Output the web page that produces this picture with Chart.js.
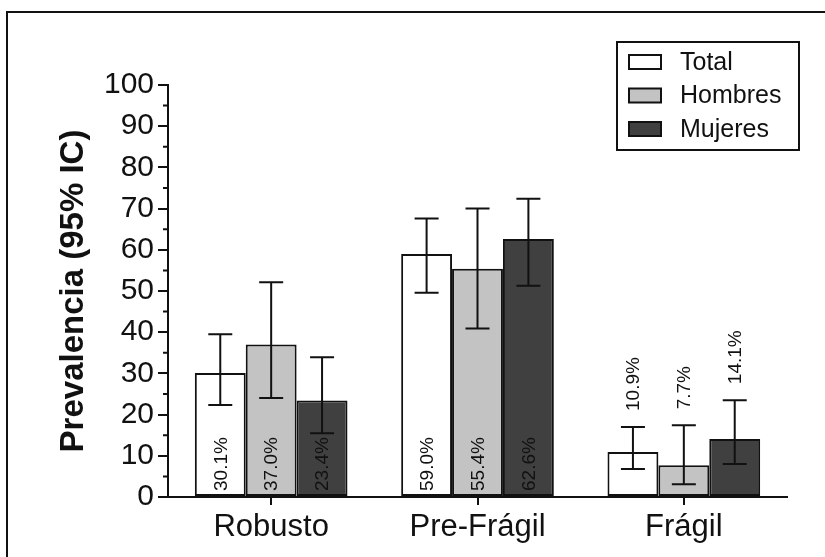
<!DOCTYPE html>
<html>
<head>
<meta charset="utf-8">
<script src="https://cdn.jsdelivr.net/npm/chart.js@4.4.1/dist/chart.umd.min.js"></script>
<style>
	html, body { margin: 0; padding: 0; background: #fff; }
	#wrap { width: 825px; height: 557px; }
</style>
</head>
<body>
<div id="wrap"><canvas id="statChart" width="825" height="557"></canvas></div>
<script>
var categories = ['Robusto', 'Pre-Frágil', 'Frágil']
var seriesNames = ['Total', 'Hombres', 'Mujeres']

var total = [30.1, 59.0, 10.9]
var hombres = [37.0, 55.4, 7.7]
var mujeres = [23.4, 62.6, 14.1]

// 95% IC, lower / upper limits
var totalLow = [22.3, 49.6, 6.8]
var totalHigh = [39.5, 67.6, 17.0]
var hombresLow = [24.0, 40.9, 3.1]
var hombresHigh = [52.1, 70.0, 17.4]
var mujeresLow = [15.5, 51.3, 8.0]
var mujeresHigh = [33.9, 72.4, 23.5]

var yTicks = [0, 10, 20, 30, 40, 50, 60, 70, 80, 90, 100]

var fills = ['#ffffff', '#c3c3c3', '#404040']
var ink = '#111111'

Chart.defaults.font.family = "'Liberation Sans', Arial, sans-serif"
Chart.defaults.color = ink

function makeSet(i, values, low, high) {
	return {
		label: seriesNames[i],
		data: values,
		low: low,
		high: high,
		backgroundColor: fills[i],
		borderColor: ink,
		borderWidth: 2,
		borderSkipped: false,
		categoryPercentage: 0.74,
		barPercentage: 1.0
	}
}

// error bars, value labels, minor ticks, legend box and the outer frame
var extras = {
	id: 'extras',
	afterDatasetsDraw(chart) {
		var ctx = chart.ctx
		var y = chart.scales.y
		ctx.save()
		ctx.strokeStyle = ink
		ctx.lineWidth = 2
		chart.data.datasets.forEach((ds, d) => {
			chart.getDatasetMeta(d).data.forEach((bar, i) => {
				var top = y.getPixelForValue(ds.high[i])
				var bot = y.getPixelForValue(ds.low[i])
				ctx.beginPath()
				ctx.moveTo(bar.x, top); ctx.lineTo(bar.x, bot)
				ctx.moveTo(bar.x - 12, top); ctx.lineTo(bar.x + 12, top)
				ctx.moveTo(bar.x - 12, bot); ctx.lineTo(bar.x + 12, bot)
				ctx.stroke()

				var txt = ds.data[i].toFixed(1) + '%'
				ctx.font = "19px 'Liberation Sans', Arial, sans-serif"
				var len = ctx.measureText(txt).width
				var barH = y.getPixelForValue(0) - bar.y
				var startY = barH > len + 14 ? y.getPixelForValue(0) - 6 : top - 16
				ctx.save()
				ctx.translate(bar.x, startY)
				ctx.rotate(-Math.PI / 2)
				ctx.fillStyle = ink
				ctx.textAlign = 'left'
				ctx.textBaseline = 'middle'
				ctx.fillText(txt, 0, 1)
				ctx.restore()
			})
		})
		ctx.restore()
	},
	afterDraw(chart) {
		var ctx = chart.ctx
		var y = chart.scales.y
		ctx.save()
		ctx.strokeStyle = ink
		ctx.lineWidth = 2
		// minor ticks
		ctx.beginPath()
		for (var k = 0; k < yTicks.length - 1; k++) {
			var py = y.getPixelForValue((yTicks[k] + yTicks[k + 1]) / 2)
			ctx.moveTo(y.right - 5, py); ctx.lineTo(y.right, py)
		}
		ctx.stroke()

		// frame
		ctx.beginPath()
		ctx.moveTo(7, 557); ctx.lineTo(7, 12); ctx.lineTo(825, 12)
		ctx.stroke()

		// legend
		ctx.strokeRect(617, 42, 182, 108)
		ctx.font = "25px 'Liberation Sans', Arial, sans-serif"
		ctx.textBaseline = 'middle'
		chart.data.datasets.forEach((ds, d) => {
			var cy = 62 + d * 33.5
			ctx.fillStyle = ds.backgroundColor
			ctx.fillRect(629, cy - 7, 32, 14)
			ctx.strokeRect(629, cy - 7, 32, 14)
			ctx.fillStyle = ink
			ctx.fillText(ds.label, 680, cy + 1)
		})
		ctx.restore()
	}
}

var chart = new Chart(document.getElementById('statChart').getContext('2d'), {
	type: 'bar',
	data: {
		labels: categories,
		datasets: [
			makeSet(0, total, totalLow, totalHigh),
			makeSet(1, hombres, hombresLow, hombresHigh),
			makeSet(2, mujeres, mujeresLow, mujeresHigh)
		]
	},
	options: {
		responsive: false,
		animation: false,
		layout: { padding: { top: 85, right: 38, left: 0, bottom: 0 } },
		plugins: {
			legend: { display: false },
			tooltip: { enabled: false }
		},
		scales: {
			x: {
				offset: true,
				grid: { display: true, drawOnChartArea: false, offset: false, tickLength: 8, tickColor: ink, lineWidth: 2 },
				border: { display: true, color: ink, width: 2 },
				ticks: { color: ink, font: { size: 31 }, padding: 4, maxRotation: 0 },
				afterFit(scale) { scale.height = 60 }
			},
			y: {
				min: 0,
				max: 100,
				afterBuildTicks(scale) { scale.ticks = yTicks.map(v => ({ value: v })) },
				grid: { display: true, drawOnChartArea: false, tickLength: 10, tickColor: ink, lineWidth: 2 },
				border: { display: true, color: ink, width: 2 },
				ticks: { color: ink, font: { size: 30 }, padding: 4 },
				title: {
					display: true,
					text: 'Prevalencia (95% IC)',
					color: ink,
					font: { size: 33, weight: 'bold' },
					padding: { top: 54, bottom: 0 }
				},
				afterFit(scale) { scale.width = 168 }
			}
		}
	},
	plugins: [extras]
})
</script>
</body>
</html>
